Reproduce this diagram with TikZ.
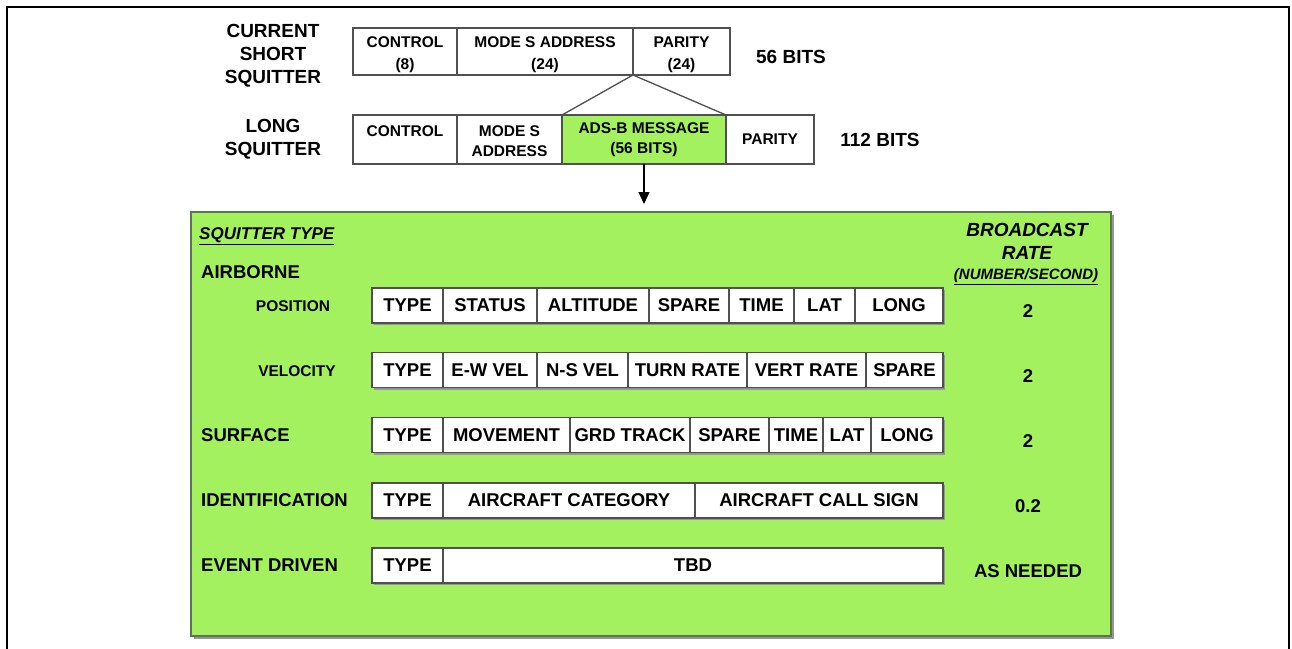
\documentclass[tikz,border=0pt]{standalone}
\usepackage{fontspec}
\setmainfont{Liberation Sans}
\usetikzlibrary{arrows.meta}

\definecolor{adsgreen}{RGB}{163,241,95}
\definecolor{boxedge}{RGB}{95,115,80}
\definecolor{celledge}{RGB}{80,80,80}
\definecolor{shadowgray}{RGB}{150,150,150}

\newcommand\bigtxt{\bfseries\fontsize{19}{23}\selectfont}
\newcommand\midtxt{\bfseries\fontsize{18.5}{22}\selectfont}
\newcommand\smalltxt{\bfseries\fontsize{15.5}{20.5}\selectfont}
\newcommand\widetxt{\bfseries\fontsize{15.5}{22}\selectfont}

\begin{document}
\begin{tikzpicture}[x=1pt,y=-1pt,
  cell/.style={draw=celledge, line width=1.3pt, fill=white, inner sep=0pt,
    outer sep=0pt, font=\midtxt},
  topcell/.style={cell, font=\smalltxt, align=center},
  shortcell/.style={cell, font=\widetxt, align=center,
    minimum height=47pt, anchor=north west},
  lbl/.style={inner sep=0pt, font=\midtxt},
  toplbl/.style={inner sep=0pt, font=\bigtxt, align=center},
  sublbl/.style={inner sep=0pt, font=\smalltxt},
  rate/.style={inner sep=0pt, font=\midtxt},
  rowshadow/.style={fill=shadowgray}
]
\useasboundingbox (0,0) rectangle (1292,648);
\fill[white] (0,0) rectangle (1292,648);

% page frame, open at the bottom
\draw[line width=2.7pt] (7,655) -- (7,7) -- (1289,7) -- (1289,655);

% ---------- short squitter ----------
\node[toplbl] (shortlbl) at (273,55.5) {CURRENT\\SHORT\\SQUITTER};
\node[shortcell, minimum width=104pt]
  (sctl) at (353,28) {\rule{0pt}{17pt}CONTROL\\(8)};
\node[shortcell, minimum width=176pt]
  (saddr) at (457,28) {\rule{0pt}{17pt}MODE S ADDRESS\\(24)};
\node[shortcell, minimum width=97pt]
  (spar) at (633,28) {\rule{0pt}{17pt}PARITY\\(24)};
\node[toplbl] (sbits) at (791,56.5) {56 BITS};

% ---------- long squitter ----------
\node[toplbl] (longlbl) at (273,139) {LONG\\SQUITTER};
\node[topcell, minimum width=104pt, minimum height=49pt, anchor=north west]
  (lctl) at (353,115) {\rule{0pt}{14pt}CONTROL\\\phantom{A}};
\node[topcell, minimum width=105pt, minimum height=49pt, anchor=north west]
  (laddr) at (457,115) {\rule{0pt}{14pt}MODE S\\ADDRESS};
\node[topcell, fill=adsgreen, minimum width=164pt, minimum height=49pt, anchor=north west]
  (lads) at (562,115) {ADS-B MESSAGE\\(56 BITS)};
\node[topcell, minimum width=88pt, minimum height=49pt, anchor=north west]
  (lpar) at (726,115) {PARITY};
\node[toplbl] (lbits) at (880,140) {112 BITS};

% expansion of the parity field into the ADS-B message
\draw[celledge, line width=1.3pt] (lads.north west) -- (spar.south west) -- (lads.north east);

% ---------- squitter types panel ----------
\fill[shadowgray] (194,215) rectangle (1114,639);
\node[draw=boxedge, fill=adsgreen, line width=1.5pt, inner sep=0pt,
  minimum width=920pt, minimum height=424pt, anchor=north west] (big) at (190,211) {};

\draw[line width=1.3pt, -{Triangle[length=12pt,width=11pt]}, shorten >=7pt]
  (lads.south) -- (lads.south |- big.north);

\node[inner sep=0pt, font=\bfseries\itshape\fontsize{17}{20}\selectfont, anchor=west]
  (sqtype) at (199,236) {\underline{SQUITTER TYPE}};
\node[inner sep=0pt, font=\bfseries\itshape\fontsize{19}{23.5}\selectfont, align=center]
  (brate) at (1027,241.5) {BROADCAST\\RATE};
\node[inner sep=0pt, font=\bfseries\itshape\fontsize{15}{18}\selectfont]
  (nps) at (1026,277) {\underline{(NUMBER/SECOND)}};

% row labels
\node[lbl, anchor=west] (airborne) at (201,272.5) {AIRBORNE};
\node[sublbl] (poslbl) at (293,306) {POSITION};
\node[sublbl] (vellbl) at (297,371) {VELOCITY};
\node[lbl, anchor=west] (surflbl) at (201,435) {SURFACE};
\node[lbl, anchor=west] (idlbl) at (201,500.5) {IDENTIFICATION};
\node[lbl, anchor=west] (evlbl) at (201,565.5) {EVENT DRIVEN};

% airborne position
\fill[rowshadow] (374,290) rectangle (945,325);
\foreach \l/\r/\t [count=\i] in {372/443/TYPE,443/537/STATUS,537/649/ALTITUDE,
    649/729/SPARE,729/794/TIME,794/855/LAT,855/943/LONG}
  \node[cell, minimum width={(\r-\l)*1pt}, minimum height=35pt]
    (pos\i) at ({(\l+\r)/2},305.5) {\t};

% airborne velocity
\fill[rowshadow] (374,354.5) rectangle (945,389.5);
\foreach \l/\r/\t [count=\i] in {372/443/TYPE,443/537/E-W VEL,537/628/N-S VEL,
    628/747/TURN RATE,747/866/VERT RATE,866/943/SPARE}
  \node[cell, minimum width={(\r-\l)*1pt}, minimum height=35pt]
    (vel\i) at ({(\l+\r)/2},370) {\t};

% surface
\fill[rowshadow] (374,419.5) rectangle (945,454.5);
\foreach \l/\r/\t [count=\i] in {372/443/TYPE,443/570/MOVEMENT,570/690/GRD TRACK,
    690/769/SPARE,769/823/TIME,823/871/LAT,871/943/LONG}
  \node[cell, minimum width={(\r-\l)*1pt}, minimum height=35pt]
    (srf\i) at ({(\l+\r)/2},435) {\t};

% identification
\fill[rowshadow] (374,485) rectangle (945,520);
\foreach \l/\r/\t [count=\i] in {372/443/TYPE,443/695/AIRCRAFT CATEGORY,
    695/943/AIRCRAFT CALL SIGN}
  \node[cell, minimum width={(\r-\l)*1pt}, minimum height=35pt]
    (idn\i) at ({(\l+\r)/2},500.5) {\t};

% event driven
\fill[rowshadow] (374,550) rectangle (945,585);
\foreach \l/\r/\t [count=\i] in {372/443/TYPE,443/943/TBD}
  \node[cell, minimum width={(\r-\l)*1pt}, minimum height=35pt]
    (evt\i) at ({(\l+\r)/2},565.5) {\t};

% broadcast rates
\node[rate] (r1) at (1028,311) {2};
\node[rate] (r2) at (1028,376) {2};
\node[rate] (r3) at (1028,441) {2};
\node[rate] (r4) at (1028,506) {0.2};
\node[rate] (r5) at (1028,571) {AS NEEDED};
\end{tikzpicture}
\end{document}
